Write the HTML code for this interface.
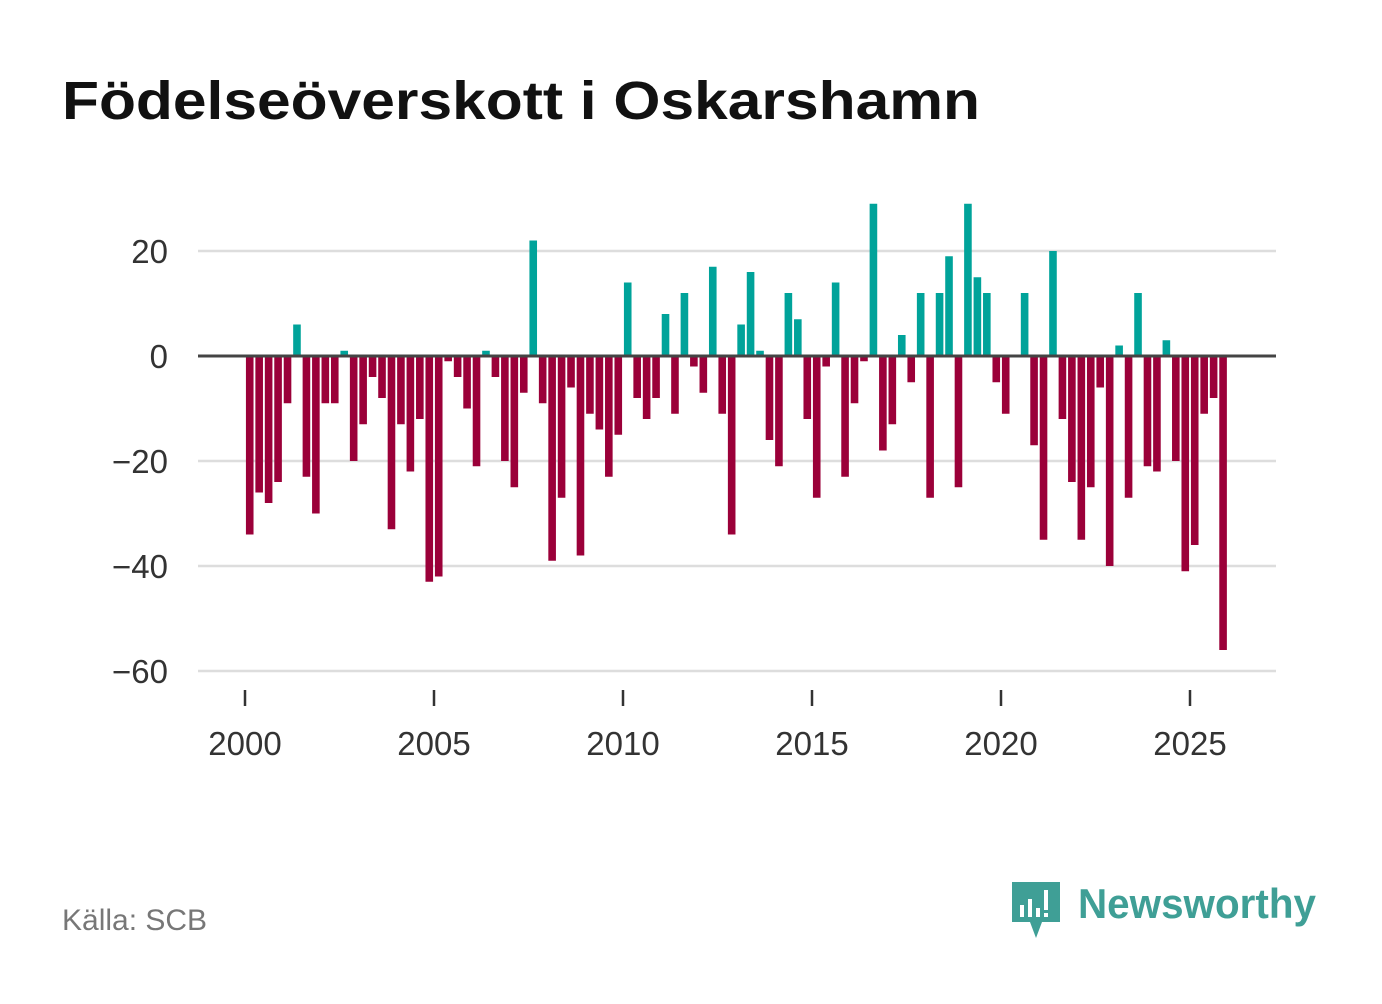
<!DOCTYPE html>
<html><head><meta charset="utf-8"><style>
body{margin:0;width:1382px;height:999px;background:#fff;font-family:"Liberation Sans",sans-serif;overflow:hidden}
</style></head><body>
<svg width="1382" height="999">
<text x="62" y="119" font-size="54" font-weight="bold" fill="#111" textLength="918" lengthAdjust="spacingAndGlyphs">Födelseöverskott i Oskarshamn</text>
<g id="grid"></g>
<g id="bars"></g>
<g id="xaxis"></g>
<text x="62" y="930" font-size="30" fill="#777">Källa: SCB</text>
<g>
<path d="M1012 882 h48 v40 h-18 l-6 16 l-6 -16 h-18 z" fill="#3f9f96"/>
<rect x="1020" y="905" width="4" height="12" fill="#fff"/><rect x="1028" y="899" width="4" height="18" fill="#fff"/><rect x="1036" y="908" width="4" height="9" fill="#fff"/><rect x="1044" y="890" width="4" height="20" fill="#fff"/><rect x="1044" y="913" width="4" height="4" fill="#fff"/>
<text x="1078" y="918" font-size="42" font-weight="bold" fill="#3f9f96" textLength="238" lengthAdjust="spacingAndGlyphs">Newsworthy</text>
</g>
</svg>
<script>
const yTicks=[20,0,-20,-40,-60];
const xTickYears=[2000,2005,2010,2015,2020,2025];
const startYear=2000;
const values=[-34,-26,-28,-24,-9,6,-23,-30,-9,-9,1,-20,-13,-4,-8,-33,-13,-22,-12,-43,-42,-1,-4,-10,-21,1,-4,-20,-25,-7,22,-9,-39,-27,-6,-38,-11,-14,-23,-15,14,-8,-12,-8,8,-11,12,-2,-7,17,-11,-34,6,16,1,-16,-21,12,7,-12,-27,-2,14,-23,-9,-1,29,-18,-13,4,-5,12,-27,12,19,-25,29,15,12,-5,-11,0,12,-17,-35,20,-12,-24,-35,-25,-6,-40,2,-27,12,-21,-22,3,-20,-41,-36,-11,-8,-56];
const NS='http://www.w3.org/2000/svg';
const x=yr=>245+(yr-2000)*37.8;
const y=v=>356-v*5.25;
function mk(t,a,p){const e=document.createElementNS(NS,t);for(const k in a)e.setAttribute(k,a[k]);p.appendChild(e);return e;}
const grid=document.getElementById('grid'),bars=document.getElementById('bars'),xa=document.getElementById('xaxis');
yTicks.forEach(t=>{
 if(t!==0){const l=mk('line',{x1:198,x2:1276,y1:y(t),y2:y(t),stroke:'#ddd','stroke-width':2.5},grid);
 
 }
 const tx=mk('text',{x:168,y:y(t)+12,'text-anchor':'end','font-size':33,fill:'#333'},grid);
 tx.textContent=t<0?'\u2212'+(-t):String(t);
 
 
});
values.forEach((v,i)=>{
 const cx=x(startYear+(i+0.5)/4);
 const r=mk('rect',{x:cx-3.8,width:7.6,y:Math.min(y(v),y(0)),height:Math.abs(y(v)-y(0)),fill:v>=0?'#00a39a':'#9b0039'},bars);
 
 
});
const z=mk('line',{x1:198,x2:1276,y1:y(0),y2:y(0),stroke:'#444','stroke-width':3},bars);


xTickYears.forEach(yr=>{
 const t=mk('line',{x1:x(yr),x2:x(yr),y1:690,y2:706,stroke:'#333','stroke-width':2.5},xa);
 
 
 const tx=mk('text',{x:x(yr),y:755,'text-anchor':'middle','font-size':33,fill:'#333'},xa);
 tx.textContent=yr;
 
 
});
</script>
</body></html>
